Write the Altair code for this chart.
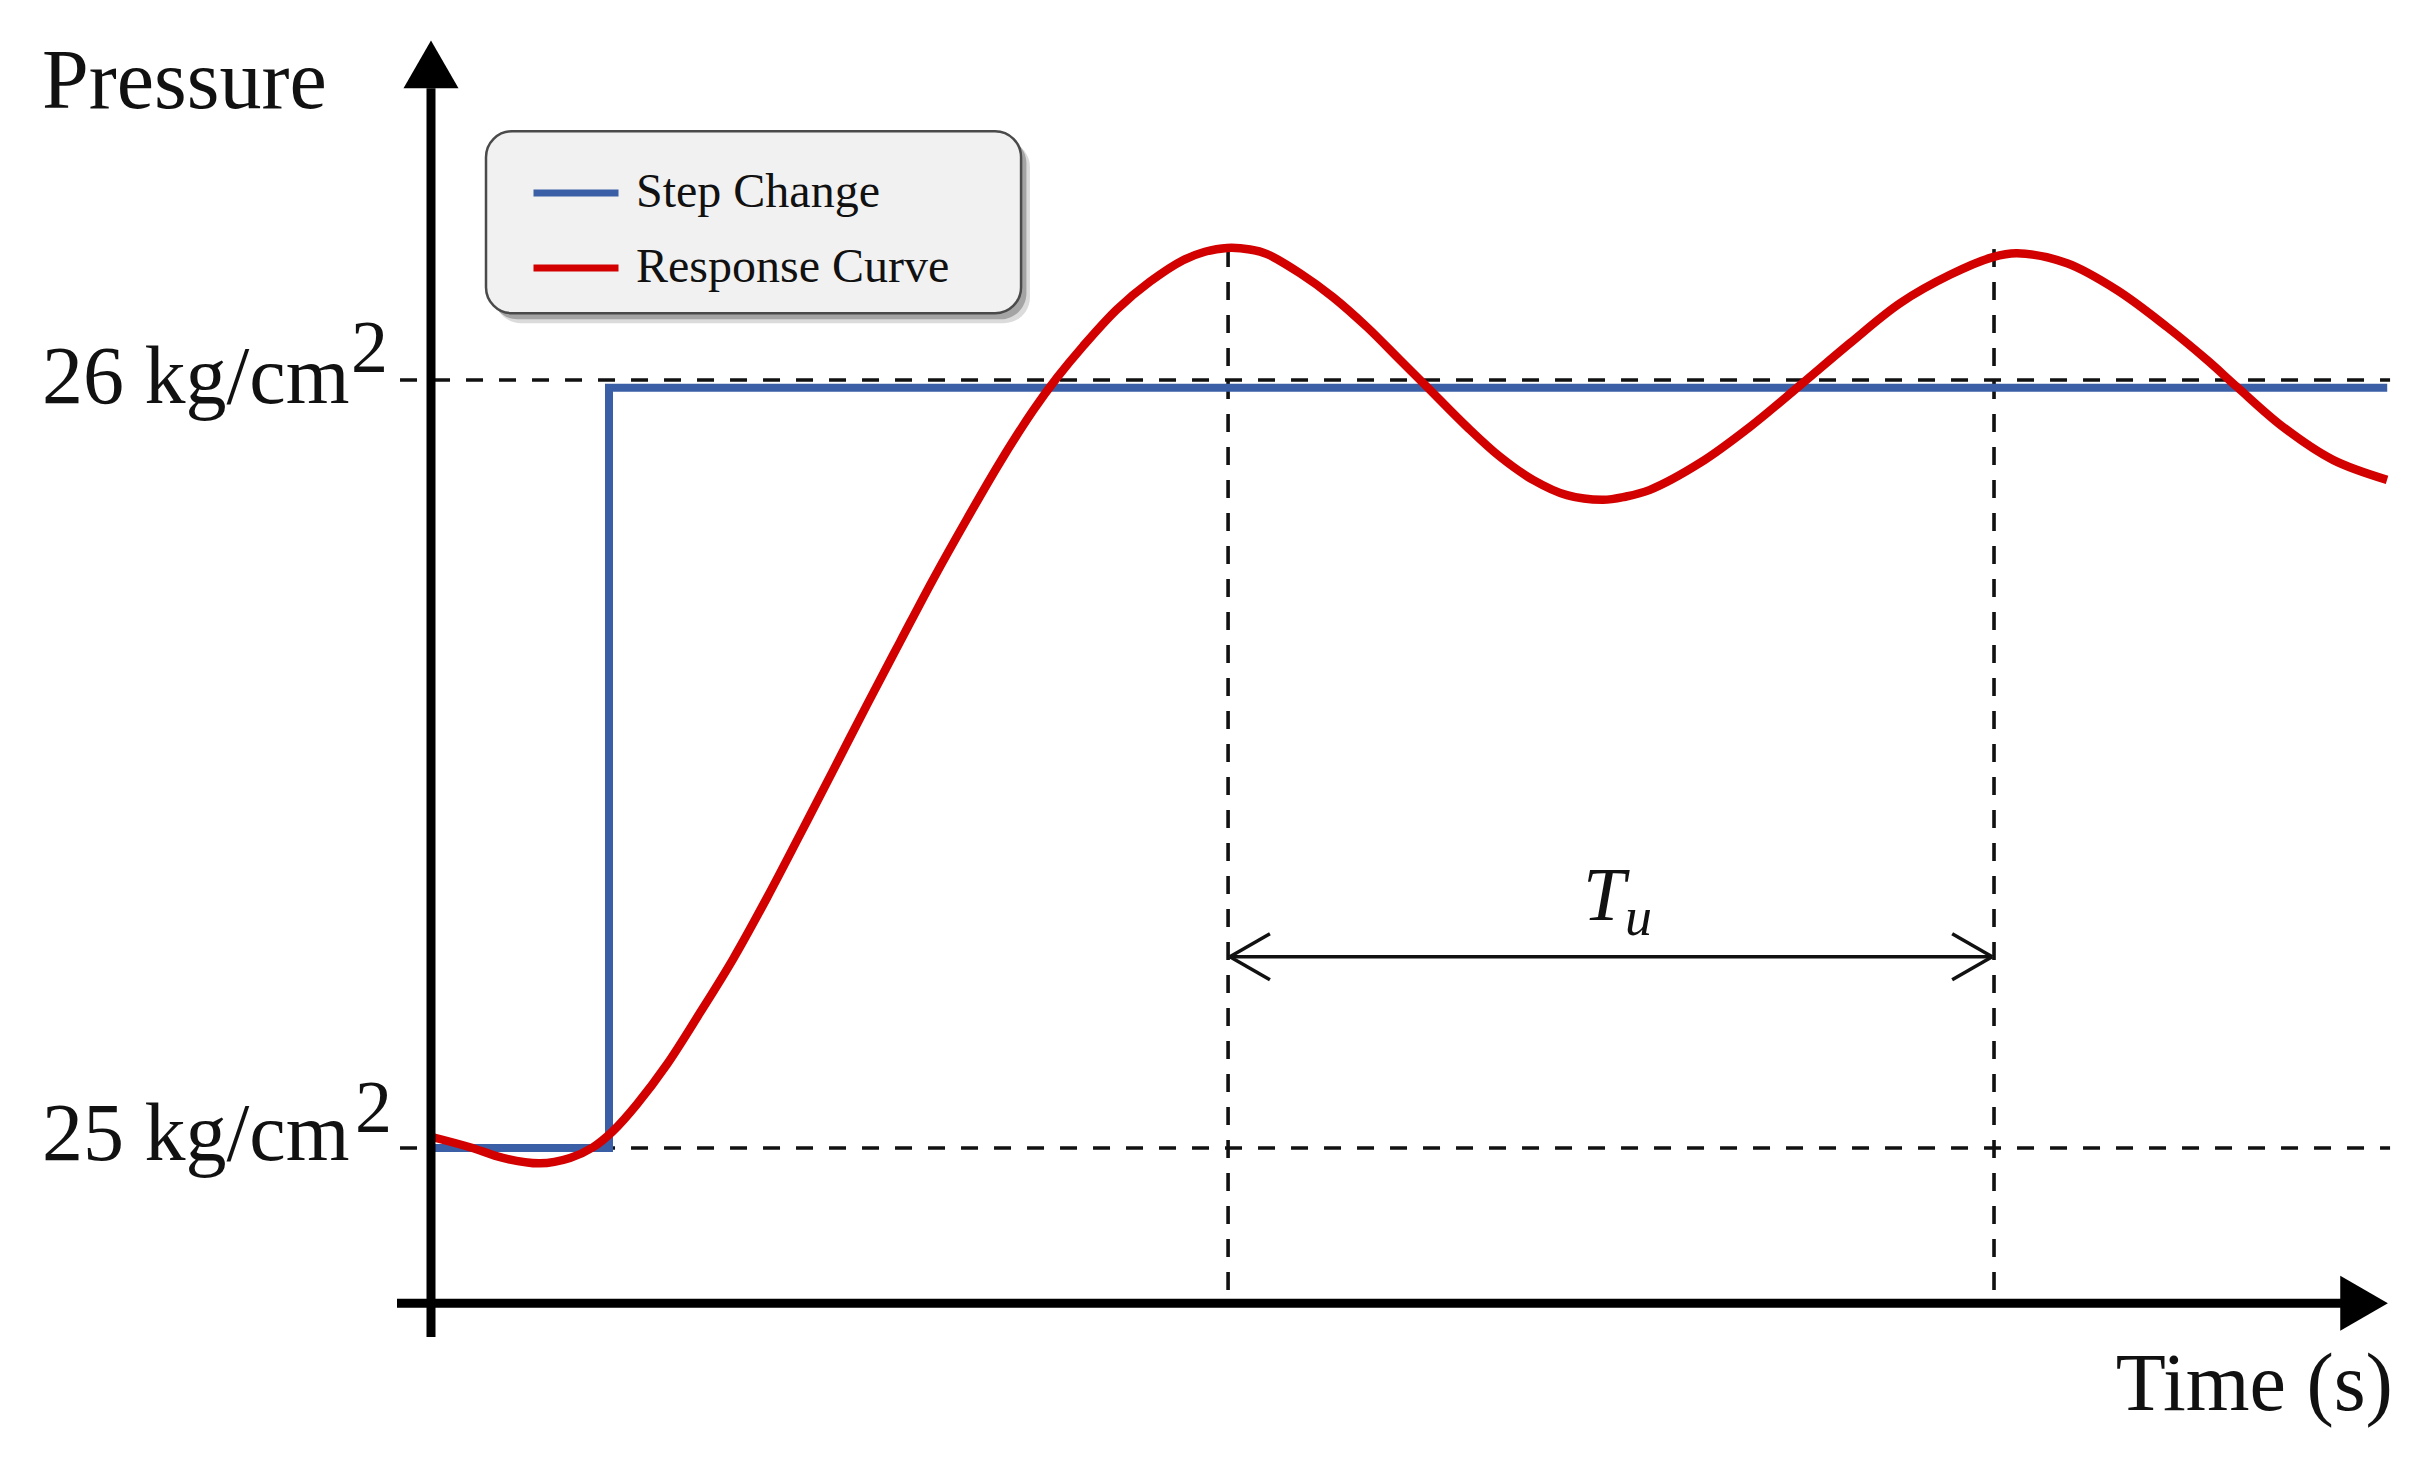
import altair as alt
import pandas as pd

# ---------------- data ----------------
# Step change (set-point) : time, pressure
step_t = [0.0, 1.0, 10.99]
step_p = [25.0, 25.99, 25.99]

# Response curve : time, pressure
resp_t = [0.011, 0.219, 0.404, 0.612, 0.781, 0.910, 1.022, 1.157, 1.326, 1.511,
          1.697, 1.888, 2.073, 2.258, 2.449, 2.635, 2.820, 3.011, 3.197, 3.382,
          3.517, 3.663, 3.854, 4.039, 4.225, 4.348, 4.472, 4.601, 4.697, 4.882,
          5.067, 5.258, 5.444, 5.596, 5.820, 6.006, 6.191, 6.382, 6.584, 6.708,
          6.848, 7.129, 7.410, 7.691, 7.972, 8.253, 8.534, 8.775, 8.910, 9.191,
          9.472, 9.753, 9.978, 10.146, 10.404, 10.685, 10.989]
resp_p = [25.014, 25.001, 24.987, 24.980, 24.987, 25.001, 25.022, 25.057, 25.109, 25.176,
          25.246, 25.326, 25.408, 25.491, 25.577, 25.659, 25.740, 25.819, 25.893, 25.960,
          26.003, 26.044, 26.092, 26.128, 26.156, 26.167, 26.172, 26.170, 26.164, 26.139,
          26.108, 26.069, 26.026, 25.991, 25.939, 25.900, 25.870, 25.850, 25.844, 25.848,
          25.857, 25.892, 25.939, 25.993, 26.048, 26.100, 26.137, 26.160, 26.165, 26.152,
          26.117, 26.069, 26.026, 25.991, 25.939, 25.896, 25.870]

series_names = ["Step Change", "Response Curve"]
series_colors = ["#3b5fa6", "#d30000"]

level_p = [25.0, 26.0]                  # reference levels
level_text = ["25 kg/cm", "26 kg/cm"]
peak_t = [4.478, 8.781]                 # the two marked peaks (period Tu)

# ---------------- scales (axes are drawn by hand as arrows) ----------------
XS = alt.Scale(domain=[-2.3764, 11.1854], nice=False, zero=False)
YS = alt.Scale(domain=[24.596354, 26.484375], nice=False, zero=False)
SERIF = "Liberation Serif"


def X(f="t"):
    return alt.X(f"{f}:Q", scale=XS, axis=None)


def Y(f="p"):
    return alt.Y(f"{f}:Q", scale=YS, axis=None)


color = alt.Color(
    "series:N",
    scale=alt.Scale(domain=series_names, range=series_colors),
    legend=alt.Legend(
        title=None, orient="none", legendX=522, legendY=139,
        symbolType="stroke", symbolSize=7225, symbolStrokeWidth=7,
        labelFont=SERIF, labelFontSize=48, labelColor="#111",
        labelOffset=14, rowPadding=5, padding=0, labelLimit=600,
    ),
)

step_df = pd.DataFrame({"t": step_t, "p": step_p, "series": series_names[0]})
resp_df = pd.DataFrame({"t": resp_t, "p": resp_p, "series": series_names[1]})

# legend box (drawn behind the real legend) and its shadow
box = pd.DataFrame({"t": [0.309], "t2": [3.315], "p": [26.324], "p2": [26.087]})
shadow1 = box.assign(t=box.t + 0.050, t2=box.t2 + 0.050, p=box.p - 0.013, p2=box.p2 - 0.013)
shadow2 = box.assign(t=box.t + 0.030, t2=box.t2 + 0.030, p=box.p - 0.008, p2=box.p2 - 0.008)


def rect(df, **kw):
    return alt.Chart(df).mark_rect(cornerRadius=26, **kw).encode(
        x=X("t"), x2="t2", y=Y("p"), y2="p2")


layers = []
layers.append(rect(shadow1, fill="#000", opacity=0.14))
layers.append(rect(shadow2, fill="#000", opacity=0.25))
layers.append(rect(box, fill="#f1f1f1", stroke="#4a4a4a", strokeWidth=2.5))

# dashed reference levels
hdf = pd.DataFrame({"p": level_p, "t": [-0.174] * 2, "t2": [11.006] * 2})
layers.append(alt.Chart(hdf).mark_rule(color="#111", strokeWidth=3.6, strokeDash=[17, 16]).encode(
    x=X("t"), x2="t2", y=Y("p")))

# dashed verticals at the peaks
vdf = pd.DataFrame({"t": peak_t, "p": [24.815] * 2, "p2": [26.176] * 2})
layers.append(alt.Chart(vdf).mark_rule(color="#111", strokeWidth=3.6, strokeDash=[18, 15]).encode(
    x=X("t"), y=Y("p"), y2="p2"))

# data lines
layers.append(alt.Chart(step_df).mark_line(strokeWidth=8, interpolate="step-after").encode(
    x=X(), y=Y(), color=color))
layers.append(alt.Chart(resp_df).mark_line(strokeWidth=8.5, interpolate="catmull-rom").encode(
    x=X(), y=Y(), color=color))

# axes as arrows
ax = pd.DataFrame({"t": [0.0, -0.191], "t2": [0.0, 10.80], "p": [24.754, 24.798], "p2": [26.38, 24.798]})
layers.append(alt.Chart(ax).mark_rule(color="#000", strokeWidth=9).encode(
    x=X("t"), x2="t2", y=Y("p"), y2="p2"))
layers.append(alt.Chart(pd.DataFrame({"t": [0.0], "p": [26.411]})).mark_point(
    shape="triangle-up", filled=True, size=3025, color="#000", opacity=1).encode(x=X(), y=Y()))
layers.append(alt.Chart(pd.DataFrame({"t": [10.860], "p": [24.798]})).mark_point(
    shape="triangle-right", filled=True, size=3025, color="#000", opacity=1).encode(x=X(), y=Y()))

# Tu double arrow
tu_p = 25.249
arr = pd.DataFrame({
    "t":  [peak_t[0] + 0.01, peak_t[0] + 0.01, peak_t[0] + 0.01, peak_t[1] - 0.01, peak_t[1] - 0.01],
    "t2": [peak_t[1] - 0.01, peak_t[0] + 0.235, peak_t[0] + 0.235, peak_t[1] - 0.235, peak_t[1] - 0.235],
    "p":  [tu_p] * 5,
    "p2": [tu_p, tu_p + 0.030, tu_p - 0.030, tu_p + 0.030, tu_p - 0.030],
})
layers.append(alt.Chart(arr).mark_rule(color="#111", strokeWidth=3.5).encode(
    x=X("t"), x2="t2", y=Y("p"), y2="p2"))

# texts
def text(df, **kw):
    return alt.Chart(df).mark_text(font=SERIF, color="#111", baseline="alphabetic", **kw).encode(
        x=X(), y=Y(), text="s:N")

layers.append(text(pd.DataFrame({"t": [-2.185], "p": [26.354], "s": ["Pressure"]}), fontSize=84, align="left"))
layers.append(text(pd.DataFrame({"t": [-2.185, -2.185], "p": [24.984, 25.970], "s": level_text}),
                   fontSize=82, align="left"))
layers.append(text(pd.DataFrame({"t": [-0.427, -0.449], "p": [25.021, 26.010], "s": ["2", "2"]}),
                   fontSize=74, align="left"))
layers.append(text(pd.DataFrame({"t": [11.022], "p": [24.659], "s": ["Time (s)"]}), fontSize=82, align="right"))
layers.append(text(pd.DataFrame({"t": [6.472], "p": [25.297], "s": ["T"]}), fontSize=76, align="left",
                   fontStyle="italic"))
layers.append(text(pd.DataFrame({"t": [6.708], "p": [25.277], "s": ["u"]}), fontSize=54, align="left",
                   fontStyle="italic"))

chart = alt.layer(*layers).properties(
    width=2414, height=1450, autosize=alt.AutoSizeParams(type="none"), padding=0,
    background="white",
).configure_view(stroke=None)

chart.save("out.html", embed_options={"renderer": "svg", "actions": False})
